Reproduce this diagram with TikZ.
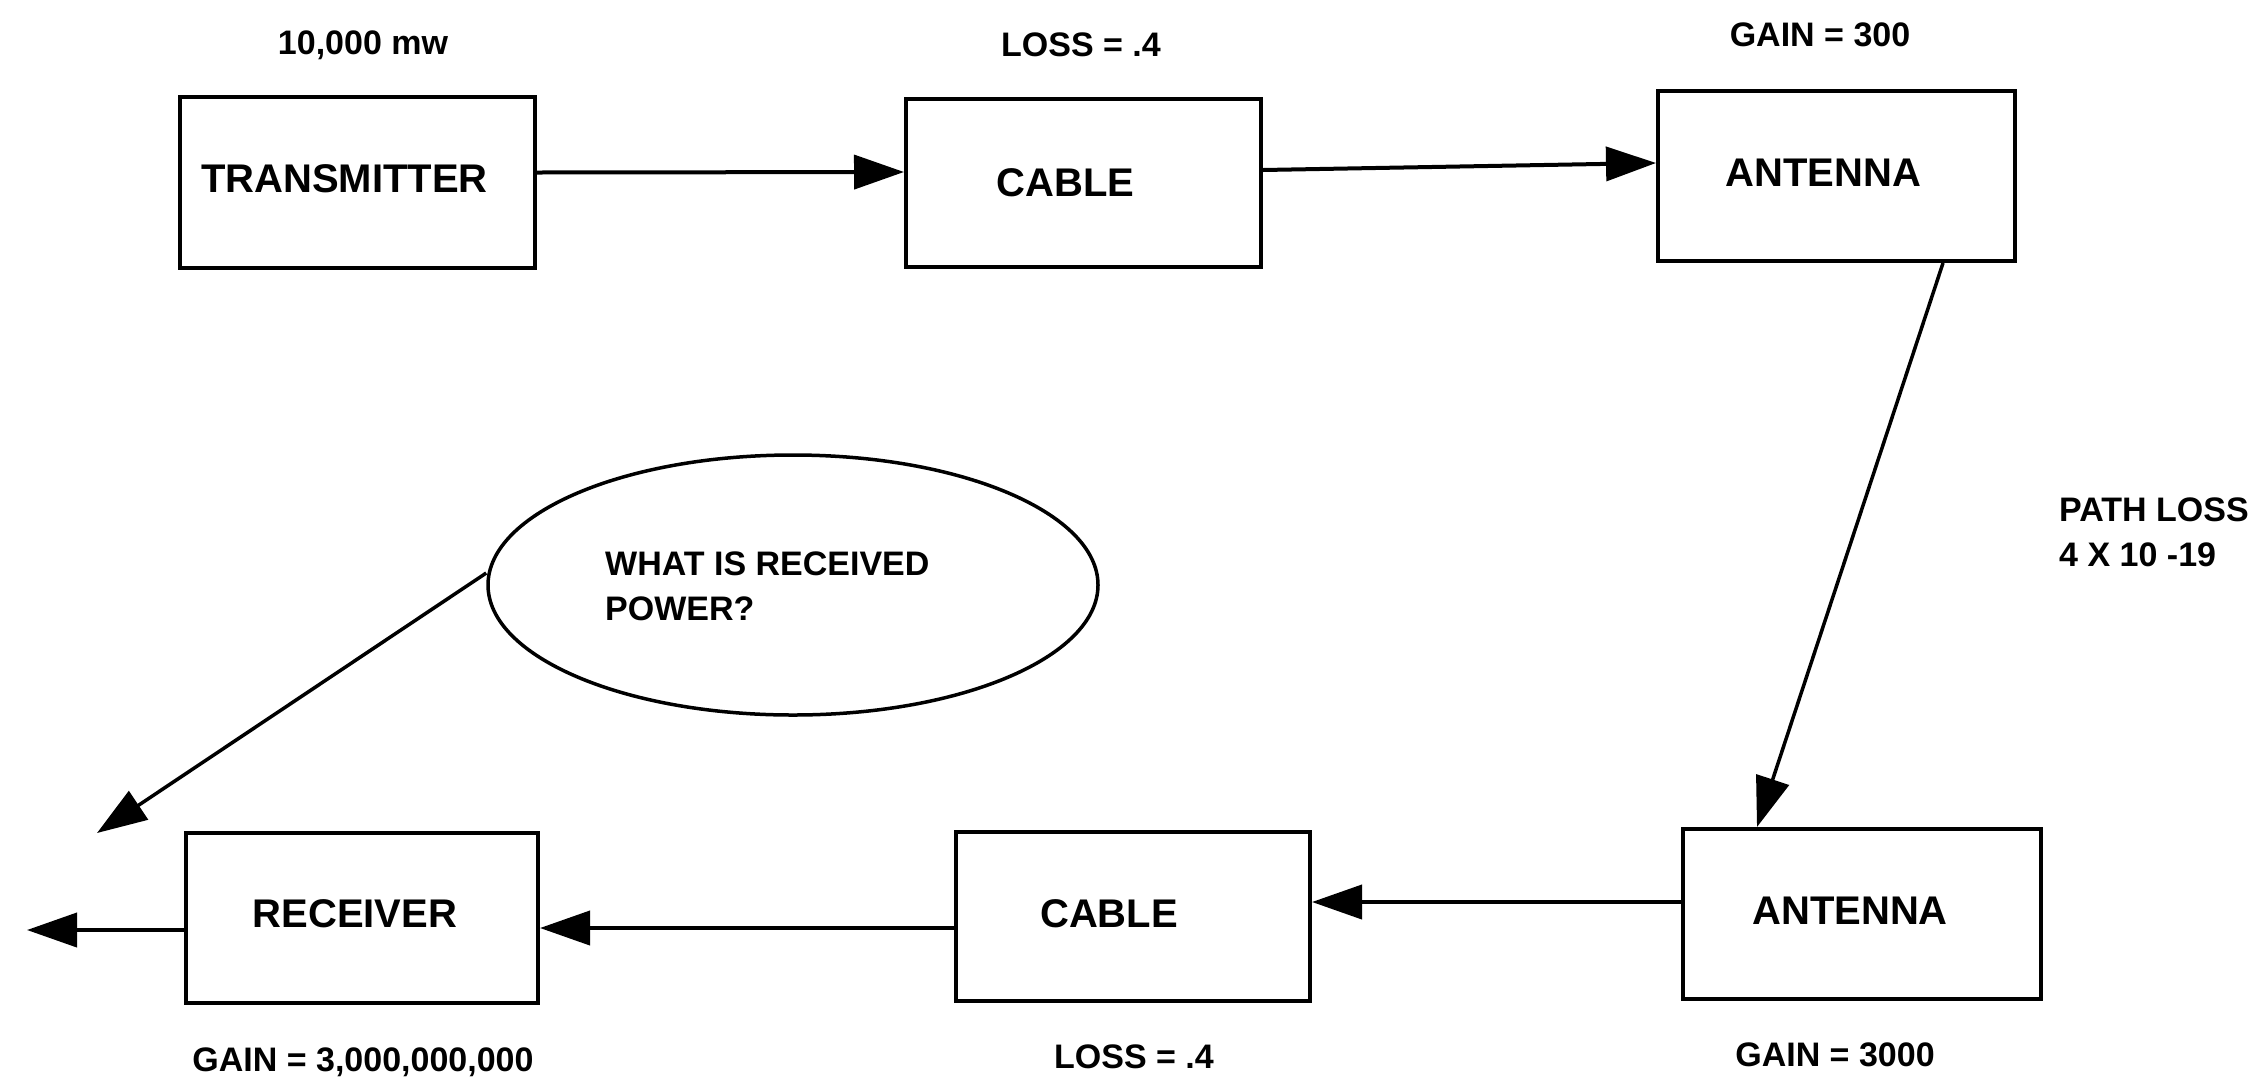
\documentclass[tikz,border=0pt]{standalone}
\usepackage{fontspec}
\setmainfont{Liberation Sans}
\usetikzlibrary{arrows.meta,shapes.geometric}
\begin{document}
\begin{tikzpicture}[x=1pt,y=-1pt,
 box/.style={draw,line width=4pt,rectangle,inner sep=0pt,font=\fontsize{40}{44}\selectfont\bfseries},
 lbl/.style={font=\fontsize{34}{45}\selectfont\bfseries,inner sep=0pt},
 arr/.style={line width=4pt,-{Triangle[length=50pt,width=34pt]}},
]
\useasboundingbox[fill=white] (0,0) rectangle (2259,1088);
% boxes
\node[box,minimum width=355pt,minimum height=171pt] (trans) at (357.5,182.5) {TRANSMITTER\hspace*{26pt}\rule[-8pt]{0pt}{1pt}};
\node[box,minimum width=355pt,minimum height=168pt] (cab1) at (1083.5,183) {CABLE\hspace*{36pt}};
\node[box,minimum width=357pt,minimum height=170pt] (ant1) at (1836.5,176) {ANTENNA\hspace*{26pt}\rule[-6pt]{0pt}{1pt}};
\node[box,minimum width=358pt,minimum height=170pt] (ant2) at (1862,914) {ANTENNA\hspace*{24pt}\rule[-6pt]{0pt}{1pt}};
\node[box,minimum width=354pt,minimum height=169pt] (cab2) at (1133,916.5) {CABLE\hspace*{48pt}\rule[-6pt]{0pt}{1pt}};
\node[box,minimum width=352pt,minimum height=170pt] (recv) at (362,918) {RECEIVER\hspace*{14pt}\rule[-8pt]{0pt}{1pt}};
% ellipse
\node[draw,ellipse,line width=3.5pt,minimum width=610pt,minimum height=260pt,inner sep=0pt] (q) at (793,585) {};
\node[lbl,align=left,anchor=west] (qt) at (605,586) {WHAT IS RECEIVED\\POWER?};
% labels
\node[lbl] (l1) at (363,45) {10,000 mw};
\node[lbl] (l2) at (1081,45) {LOSS = .4};
\node[lbl] (l3) at (1820,35) {GAIN = 300};
\node[lbl,align=left,anchor=west] (l4) at (2059,532) {PATH LOSS\\4 X 10 -19};
\node[lbl] (l5) at (363,1062) {GAIN = 3,000,000,000};
\node[lbl] (l6) at (1134,1057) {LOSS = .4};
\node[lbl] (l7) at (1835,1055) {GAIN = 3000};
% connectors
\coordinate (out) at (27,930);
\coordinate (qtip) at (97,833);
\draw[arr] ([yshift=10pt]trans.east) -- ([yshift=11pt]cab1.west);
\draw[arr] ([yshift=13pt]cab1.east) -- ([yshift=13pt]ant1.west);
\draw[arr,line width=3.5pt] ([xshift=106.5pt]ant1.south) -- ([xshift=-105pt]ant2.north);
\draw[arr] ([yshift=12pt]ant2.west) -- ([yshift=14.5pt]cab2.east);
\draw[arr] ([yshift=-11.5pt]cab2.west) -- ([yshift=-10pt]recv.east);
\draw[arr] ([yshift=-12pt]recv.west) -- (out);
\draw[arr,line width=3.5pt] ([yshift=12pt]q.west) -- (qtip);
\end{tikzpicture}
\end{document}
